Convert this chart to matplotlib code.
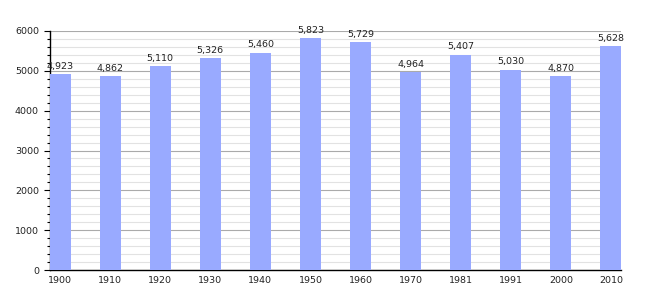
import matplotlib
matplotlib.use("Agg")
import matplotlib.pyplot as plt
from matplotlib.ticker import MultipleLocator

years = ["1900", "1910", "1920", "1930", "1940", "1950", "1960", "1970", "1981", "1991", "2000", "2010"]
population = [4923, 4862, 5110, 5326, 5460, 5823, 5729, 4964, 5407, 5030, 4870, 5628]

fig = plt.figure(figsize=(6.5, 3.0), dpi=100)
ax = fig.add_axes([50/650, 30/300, 571/650, 239/300])

x = list(range(len(years)))
ax.bar(x, population, width=0.42, color="#99aaff", zorder=3)
for xi, v in zip(x, population):
    ax.text(xi, v + 80, f"{v:,}", ha="center", va="bottom", fontsize=6.8, color="#222222", zorder=4)

ax.set_xlim(-0.2, 11.2)
ax.set_ylim(0, 6000)
ax.set_xticks(x)
ax.set_xticklabels(years, fontsize=6.8, color="#222222")
ax.yaxis.set_major_locator(MultipleLocator(1000))
ax.yaxis.set_minor_locator(MultipleLocator(200))
ax.tick_params(axis="y", labelsize=6.8, length=4, width=0.8, labelcolor="#222222", pad=4)
ax.tick_params(axis="y", which="minor", length=2, width=0.8)
ax.tick_params(axis="x", length=0, pad=4)
ax.grid(axis="y", which="major", color="#aaaaaa", linewidth=0.8, zorder=0)
ax.grid(axis="y", which="minor", color="#e2e2e2", linewidth=0.8, zorder=0)
for s in ["top", "right"]:
    ax.spines[s].set_visible(False)
ax.spines["left"].set_linewidth(1.0)
ax.spines["bottom"].set_linewidth(1.0)

fig.savefig("out.png", dpi=100)
